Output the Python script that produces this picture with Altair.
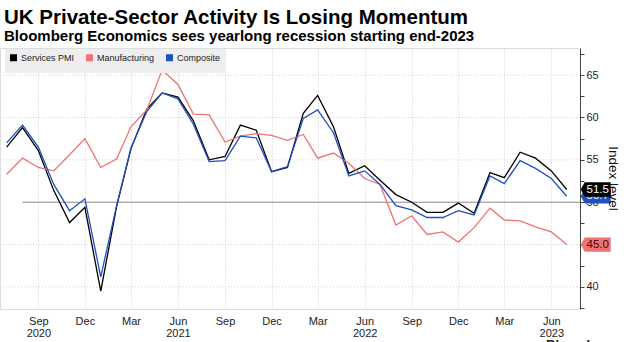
import altair as alt
import pandas as pd

# ---- data ----
start_month = "2020-07-01"
end_month = "2023-07-01"
services = [56.5, 58.8, 56.1, 51.4, 47.6, 49.4, 39.5, 49.5, 56.3, 61.0, 62.9, 62.4,
            59.6, 55.0, 55.4, 59.1, 58.5, 53.6, 54.1, 60.5, 62.6, 58.9, 53.4, 54.3,
            52.6, 50.9, 50.0, 48.8, 48.8, 49.9, 48.7, 53.5, 52.9, 55.9, 55.2, 53.7, 51.5]
manufacturing = [53.3, 55.2, 54.1, 53.7, 55.6, 57.5, 54.1, 55.1, 58.9, 60.9, 65.6, 63.9,
                 60.4, 60.3, 57.1, 57.8, 58.1, 57.9, 57.3, 58.0, 55.2, 55.8, 54.6, 52.8,
                 52.1, 47.3, 48.4, 46.2, 46.5, 45.3, 47.0, 49.3, 47.9, 47.8, 47.1, 46.5, 45.0]
composite = [57.0, 59.1, 56.5, 52.1, 49.0, 50.4, 41.2, 49.6, 56.4, 60.7, 62.9, 62.2,
             59.2, 54.8, 54.9, 57.8, 57.6, 53.6, 54.2, 59.9, 60.9, 58.2, 53.1, 53.7,
             52.1, 49.6, 49.1, 48.2, 48.2, 49.0, 48.5, 53.1, 52.2, 54.9, 54.0, 52.8, 50.7]
series_names = ["Services PMI", "Manufacturing", "Composite"]
series_colors = ["#000000", "#f07272", "#1f4fc4"]
grid_levels = [40, 45, 55, 60, 65]
ref_level = [50]
y_tick_values = [37.5, 40, 42.5, 45, 47.5, 50, 52.5, 55, 57.5, 60, 62.5, 65, 67.5]
x_tick_months = [(2020, 9), (2020, 12), (2021, 3), (2021, 6), (2021, 9), (2021, 12),
                 (2022, 3), (2022, 6), (2022, 9), (2022, 12), (2023, 3), (2023, 6)]
y_title = ["Index level"]
brand_text = ["Bloomberg"]

months = pd.date_range(start_month, end_month, freq="MS")
rows = []
for name, vals in zip(series_names, [services, manufacturing, composite]):
    for d, v in zip(months, vals):
        rows.append({"date": d, "series": name, "value": v})
df = pd.DataFrame(rows)
df_last = df[df["date"] == df["date"].max()].reset_index(drop=True)

FONT = "Liberation Sans"
W, H = 580, 261

x_scale = alt.Scale(domain=[alt.DateTime(year=2020, month=6, date=18),
                            alt.DateTime(year=2023, month=7, date=27)])
y_scale = alt.Scale(domain=[37.4, 68.2], nice=False, zero=False)
color_scale = alt.Scale(domain=series_names, range=series_colors)

x_axis = alt.Axis(
    values=[alt.DateTime(year=y, month=m, date=1) for y, m in x_tick_months],
    labelExpr="(month(datum.value) == 5 || (month(datum.value) == 8 && year(datum.value) == 2020)) ? [timeFormat(datum.value, '%b'), timeFormat(datum.value, '%Y')] : timeFormat(datum.value, '%b')",
    grid=True, gridColor="#cfcfcf", gridDash=[1, 2], domain=False, ticks=False,
    labelFont=FONT, labelFontSize=11, labelColor="#222222", labelPadding=6,
    labelLineHeight=12.5, labelAngle=0, labelFlush=False, labelOverlap=False, title=None,
)
y_axis = alt.Axis(
    orient="right", values=y_tick_values,
    labelExpr="datum.value % 5 === 0 ? datum.label : ''",
    grid=False, domainColor="#444444", tickColor="#444444", tickSize=4,
    labelFont=FONT, labelFontSize=11, labelColor="#222222", labelPadding=2,
    title=None,
)


def X(field):
    return alt.X(field, scale=x_scale, axis=x_axis)


def Y(field):
    return alt.Y(field, scale=y_scale, axis=y_axis)


hgrid = alt.Chart(pd.DataFrame({"level": grid_levels})).mark_rule(
    color="#d0d0d0", strokeDash=[1, 2], strokeWidth=1
).encode(y=Y("level:Q"))

ref = alt.Chart(pd.DataFrame({"start": ["2020-08-01T00:00:00"], "end": ["2023-07-27T00:00:00"],
                              "level": ref_level})).mark_rule(
    color="#8a8a8a", strokeWidth=1
).encode(x=X("start:T"), x2="end:T", y=Y("level:Q"))

legend = alt.Legend(
    title=None, orient="none", legendX=5, legendY=1, direction="horizontal",
    fillColor="#eeeeee", padding=4, symbolType="square", symbolSize=4,
    symbolStrokeWidth=5, symbolOffset=0, labelFont=FONT, labelFontSize=9,
    labelColor="#222222", columnPadding=3, labelOffset=3, gridAlign="each",
)

lines = alt.Chart(df).mark_line(strokeWidth=1.3).encode(
    x=X("date:T"), y=Y("value:Q"),
    color=alt.Color("series:N", scale=color_scale, legend=legend),
)

box_path = "M -1 0 L -0.73 -0.48 L 1 -0.48 L 1 0.48 L -0.73 0.48 Z"
end_layers = []
for name in ["Manufacturing", "Composite", "Services PMI"]:
    base = alt.Chart(df_last).transform_filter(alt.datum.series == name)
    box = base.mark_point(shape=box_path, size=900, filled=True, opacity=1,
                          strokeWidth=0, xOffset=29).encode(
        x=X("date:T"), y=Y("value:Q"),
        fill=alt.Fill("series:N", scale=color_scale, legend=None),
    )
    txt = base.mark_text(xOffset=31, font=FONT, fontSize=11.5, align="center",
                         baseline="middle",
                         color="#3a0a0a" if name == "Manufacturing" else "#ffffff").encode(
        x=X("date:T"), y=Y("value:Q"), text=alt.Text("value:Q", format=".1f"),
    )
    end_layers += [box, txt]

ytitle = alt.Chart(pd.DataFrame({"t": y_title})).mark_text(
    angle=90, align="center", baseline="middle", font=FONT, fontSize=13.5, color="#111111"
).encode(text="t:N", x=alt.value(W + 33), y=alt.value(H / 2))

brand = alt.Chart(pd.DataFrame({"t": brand_text})).mark_text(
    align="left", baseline="top", font=FONT, fontSize=13, fontWeight="bold", color="#222222"
).encode(text="t:N", x=alt.value(546), y=alt.value(H + 30))

chart = alt.layer(hgrid, ref, lines, *end_layers, ytitle, brand).properties(
    width=W, height=H,
    padding={"left": 0, "top": 48, "right": 50, "bottom": 33},
    autosize=alt.AutoSizeParams(type="none"),
    title=alt.TitleParams(
        text="UK Private-Sector Activity Is Losing Momentum",
        subtitle="Bloomberg Economics sees yearlong recession starting end-2023",
        anchor="start", frame="group", font=FONT, fontSize=20.5, fontWeight="bold",
        color="#000000", subtitleFont=FONT, subtitleFontSize=15,
        subtitleFontWeight="bold", subtitleColor="#000000", subtitlePadding=1,
        offset=4, dx=4,
    ),
).configure_view(stroke=None).configure(background="#ffffff")

chart.save("out.html", embed_options={"renderer": "svg", "actions": False})
